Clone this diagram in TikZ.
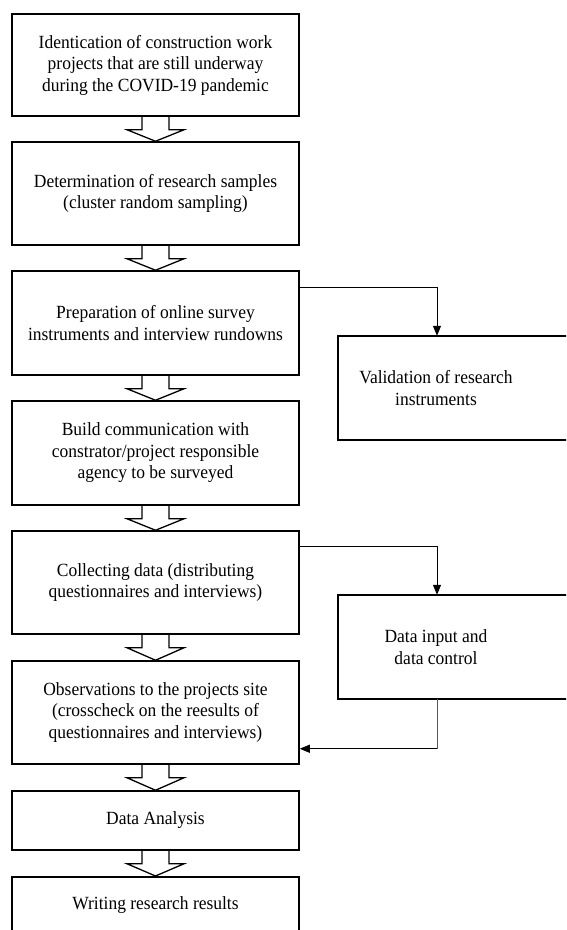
\documentclass[tikz,border=0pt]{standalone}
\usepackage{fontspec}
\setmainfont{Liberation Serif}[FakeStretch=0.94]
\usetikzlibrary{arrows.meta,calc}
\newcommand\blkarrow[2]{%
  \draw[blk] ([xshift=-13.5pt]#1.south) -- ([xshift=-13.5pt,yshift=-13pt]#1.south)
    -- ([xshift=-28.5pt,yshift=-13pt]#1.south) -- (#2.north)
    -- ([xshift=28.5pt,yshift=-13pt]#1.south) -- ([xshift=13.5pt,yshift=-13pt]#1.south)
    -- ([xshift=13.5pt]#1.south);}
\begin{document}
\begin{tikzpicture}[x=1pt,y=-1pt,
  txt/.style={font=\fontsize{18.6}{21.5}\selectfont, align=center, inner sep=0pt},
  box/.style={txt, draw, line width=1.5pt, minimum width=287pt},
  sidebox/.style={txt, minimum width=196pt},
  blk/.style={line width=1.3pt, line join=miter},
  con/.style={line width=1pt, -{Triangle[length=10pt,width=8pt]}}
]
\useasboundingbox (0,0) rectangle (566,930);
\clip (0,0) rectangle (566,930);

\node[box, minimum height=102pt] (b1) at (155.5,65) {Identication of construction work\\projects that are still underway\\during the COVID-19 pandemic};
\node[box, minimum height=103pt] (b2) at (155.5,193.5) {Determination of research samples\\(cluster random sampling)};
\node[box, minimum height=104pt] (b3) at (155.5,323) {Preparation of online survey\\instruments and interview rundowns};
\node[box, minimum height=104pt] (b4) at (155.5,453) {Build communication with\\constrator/project responsible\\agency to be surveyed};
\node[box, minimum height=103pt] (b5) at (155.5,582.5) {Collecting data (distributing\\questionnaires and interviews)};
\node[box, minimum height=103pt] (b6) at (155.5,712.5) {Observations to the projects site\\(crosscheck on the reesults of\\questionnaires and interviews)};
\node[box, minimum height=59pt] (b7) at (155.5,820.5) {Data Analysis};
\node[box, minimum height=60pt, anchor=north] (b8) at (155.5,876) {\raisebox{7pt}{Writing research results}};

\blkarrow{b1}{b2}
\blkarrow{b2}{b3}
\blkarrow{b3}{b4}
\blkarrow{b4}{b5}
\blkarrow{b5}{b6}
\blkarrow{b6}{b7}
\blkarrow{b7}{b8}

\node[sidebox, minimum height=104pt] (val) at (436,388) {Validation of research\\instruments};
\draw[line width=1.5pt] (val.north west) rectangle ([xshift=100pt]val.south east);
\node[sidebox, minimum height=104pt] (dat) at (436,647) {Data input and\\data control};
\draw[line width=1.5pt] (dat.north west) rectangle ([xshift=100pt]dat.south east);

\draw[con] ([yshift=-17pt]b3.north east) -| ([xshift=1pt]val.north);
\draw[con] ([yshift=-16pt]b5.north east) -| ([xshift=1pt]dat.north);
\coordinate (c6) at ([yshift=16pt]b6.south east);
\coordinate (turn) at ([xshift=1pt]dat.south |- c6);
\draw[line width=1pt, gray!70!black] ([xshift=1pt]dat.south) -- (turn);
\draw[con] (turn) -- (c6);
\end{tikzpicture}
\end{document}
